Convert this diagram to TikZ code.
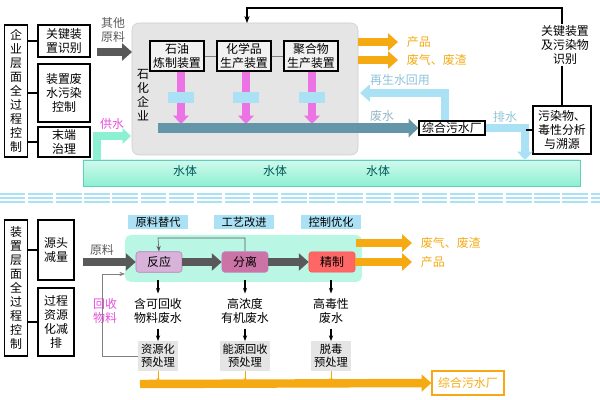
\documentclass[tikz,border=0pt]{standalone}
\usepackage{fontspec}
\setmainfont{Noto Sans CJK SC}
\usetikzlibrary{positioning,arrows.meta}
\definecolor{orng}{RGB}{245,170,20}
\definecolor{ltblue}{RGB}{170,225,245}
\definecolor{teal2}{RGB}{100,150,170}
\definecolor{aqua}{RGB}{140,240,210}
\definecolor{mag}{RGB}{230,80,220}
\begin{document}
\begin{tikzpicture}[x=0.025cm,y=-0.025cm,font=\fontsize{8.5}{10}\selectfont,
  box/.style={draw,thick,align=center,inner sep=1pt},
  lab/.style={fill=ltblue,align=center,inner sep=1.5pt,font=\fontsize{8}{9}\selectfont},
  pre/.style={fill=gray!20,align=center,inner sep=2pt,font=\fontsize{8}{9.5}\selectfont},
  fat/.style={line width=6pt,-{Triangle[length=7pt,width=12pt]}},
  thin/.style={-{Stealth[length=4pt]},thick}]
\useasboundingbox (0,0) rectangle (600,400);
% top part
\node[box,minimum width=0.58cm,minimum height=3.3cm] (ent) at (16,91) {企\\业\\层\\面\\全\\过\\程\\控\\制};
\node[box,minimum width=1.3cm,minimum height=0.8cm] (key) at (64,41) {关键装\\置识别};
\node[box,minimum width=1.3cm,minimum height=1.45cm] (dev) at (64,93) {装置废\\水污染\\控制};
\node[box,minimum width=1.3cm,minimum height=0.75cm] (end) at (64,142) {末端\\治理};
\draw[thick] (ent.east|-key) -- (key);
\draw[thick] (ent.east|-dev) -- (dev);
\draw[thick] (ent.east|-end) -- (end);
\fill[rounded corners=5pt,gray!20,draw=gray!40] (132,23) rectangle (358,155);
\node[align=center] (pc) at (143,95) {石\\化\\企\\业};
\node[align=center,text=gray!70!black] (oth) at (113,30) {其他\\原料};
\draw[gray!70!black,fat] (97,52) -- (132,52);
\node[box,fill=gray!10,minimum width=1.35cm,minimum height=0.75cm] (p1) at (177,56) {石油\\炼制装置};
\node[box,fill=gray!10,minimum width=1.35cm,minimum height=0.75cm] (p2) at (244,56) {化学品\\生产装置};
\node[box,fill=gray!10,minimum width=1.35cm,minimum height=0.75cm] (p3) at (311,56) {聚合物\\生产装置};
\draw[gray] (p1) -- (p2) -- (p3);
\foreach \n/\x in {p1/181,p2/246,p3/312} {
  \draw[mag!80,line width=6pt,-{Triangle[length=6pt,width=11pt]}] (\x,72) -- (\x,124);
  \fill[ltblue] (\x-13,92) rectangle (\x+13,103);
}
\node[box,fill=white,minimum width=1.65cm] (plant) at (452,128) {综合污水厂};
\draw[teal2,line width=7pt,-{Triangle[length=7pt,width=13pt]}] (158,128) -- (plant.west);
\node[text=teal2!70] at (382,116) {废水};
\draw[orng,fat] (358,42) -- (398,42) node[right,text=orng] {产品};
\draw[orng,fat] (358,60) -- (398,60) node[right,text=orng] {废气、废渣};
\draw[ltblue,fat] (plant.north-|445,0) |- (360,93);
\node[text=ltblue!60!teal2] at (400,80) {再生水回用};
\node[box,minimum width=1.45cm,minimum height=1.2cm] (trace) at (562,130) {污染物、\\毒性分析\\与溯源};
\coordinate (out) at (525,160);
\draw[ltblue,line width=5pt,-{Triangle[length=6pt,width=11pt]}] (plant.east) -| (out);
\node[text=ltblue!60!teal2] at (505,117) {排水};
\draw[thick] (trace.west) -- ++(-6,0);
\coordinate (gtop) at (247,23);
\draw[thick,-{Stealth[length=5pt]}] (trace.north) |- (247,8) -- (gtop);
\node[fill=white,align=center,inner sep=1pt] at (565,45) {关键装置\\及污染物\\识别};
% water body
\shade[top color=aqua!40,bottom color=aqua,draw=aqua!70!teal] (83,160) rectangle (580,186);
\foreach \x in {185,275,378} \node[text=teal!70!black] at (\x,171) {水体};
\draw[aqua,line width=6pt,-{Triangle[length=6pt,width=11pt]}] (97,160) |- (131,136);
\node[text=mag] at (112,124) {供水};
\foreach \y in {194,198,202} \draw[ltblue,line width=1.2pt,dash pattern=on 18pt off 2pt] (0,\y) -- (600,\y);
% bottom part
\node[box,minimum width=0.58cm,minimum height=3.4cm] (dev2) at (16,288) {装\\置\\层\\面\\全\\过\\程\\控\\制};
\node[box,minimum width=0.9cm,minimum height=1.5cm] (src) at (56,250) {源头\\减量};
\node[box,minimum width=0.9cm,minimum height=1.7cm] (proc) at (56,322) {过程\\资源\\化减\\排};
\draw[thick] (dev2.east|-src) -- (src);
\draw[thick] (dev2.east|-proc) -- (proc);
\node[lab,minimum width=1.5cm] (l1) at (158,222) {原料替代};
\node[lab,minimum width=1.5cm] (l2) at (244,222) {工艺改进};
\node[lab,minimum width=1.5cm] (l3) at (331,222) {控制优化};
\fill[rounded corners=4pt,aqua!60] (125,235) rectangle (362,282);
\node[draw=violet!50,fill=violet!30,rounded corners=2pt,minimum width=1.15cm,minimum height=0.5cm] (r1) at (159,262) {反应};
\node[draw=violet!50,fill=violet!40!pink,rounded corners=2pt,minimum width=1.15cm,minimum height=0.5cm] (r2) at (245,262) {分离};
\node[draw=red!70,fill=red!60,rounded corners=2pt,minimum width=1.15cm,minimum height=0.5cm] (r3) at (332,262) {精制};
\coordinate (raw) at (83,262);
\draw[gray!70!black,fat] (raw) -- (r1);
\node[text=gray!70!black] at (102,250) {原料};
\draw[gray!70!black,fat] (r1) -- (r2);
\draw[gray!70!black,fat] (r2) -- (r3);
\draw[gray!70!black,-{Stealth[length=4pt]}] (r2.north) |- (158,238) -- (r1.north);
\draw[orng,fat] (356,243) -- (412,243) node[right,text=orng] {废气、废渣};
\draw[orng,fat] (r3.east) -- (412,262) node[right,text=orng] {产品};
\foreach \n/\x/\ta/\tb in {a/158/含可回收\\物料废水/资源化\\预处理,b/245/高浓度\\有机废水/能源回收\\预处理,c/331/高毒性\\废水/脱毒\\预处理} {
  \node[align=center] (w\n) at (\x,311) {\ta};
  \node[pre] (t\n) at (\x,356) {\tb};
  \coordinate (s\n) at (\x,280);
  \draw[thin] (s\n) -- (w\n.north);
  \draw[thin] (w\n.south) -- (t\n.north);
  \coordinate (o\n) at (\x,382);
  \draw[orng,-{Stealth[length=3pt]}] (t\n.south) -- (o\n);
}
\node[draw=orng,thick,text=orng,minimum width=1.8cm,minimum height=0.6cm] (plant2) at (468,383) {综合污水厂};
\draw[orng,fat] (140,384) -- (plant2.west);
\node[text=mag,align=center] at (105,311) {回收\\物料};
\draw[gray,-{Stealth[length=4pt]}] (ta.west) -| (102,274) -- (125,274);
\end{tikzpicture}
\end{document}
